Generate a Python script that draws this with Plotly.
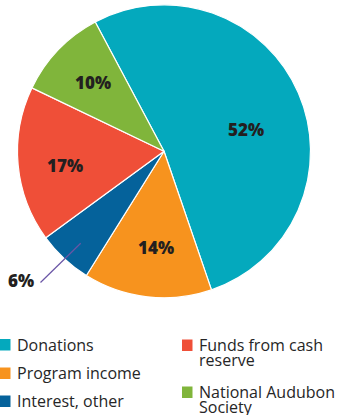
import plotly.graph_objects as go

# ---- data ----
labels = ["Donations", "Program income", "Interest, other",
          "Funds from cash reserve", "National Audubon Society"]
values = [52, 14, 6, 17, 10]
colors = ["#04a9bd", "#f7931e", "#05629b", "#ef4f38", "#80b53b"]
legend_names = ["Donations", "Program income", "Interest, other",
                "Funds from cash<br>reserve", "National Audubon<br>Society"]

# ---- layout constants ----
W, H = 337, 415
CX, CY, R = 164, 151.3, 146.5


def px(x, y):
    return x / W, 1 - y / H


# label centres (pixels) for each slice
label_pos = [(246, 129), (155.5, 247.5), (20.5, 280), (64.7, 165.5), (93, 82.7)]
# legend swatch top-left (pixels) for each slice
legend_pos = [(0, 339), (0, 367.5), (0, 395.5), (182, 339.5), (182, 386.5)]
LINE_H = 15.2

fig = go.Figure()
fig.add_trace(go.Pie(
    labels=labels,
    values=values,
    sort=False,
    direction="clockwise",
    rotation=332,
    marker=dict(colors=colors, line=dict(color="white", width=1.2)),
    textinfo="none",
    hoverinfo="label+percent",
    showlegend=False,
    domain=dict(x=[(CX - R) / W, (CX + R) / W],
                y=[1 - (CY + R) / H, 1 - (CY - R) / H]),
))

annotations = []
shapes = []
for v, (x, y) in zip(values, label_pos):
    ax, ay = px(x, y)
    annotations.append(dict(
        x=ax, y=ay, xref="paper", yref="paper", showarrow=False,
        text=f"{v}%", xanchor="center", yanchor="middle",
        font=dict(family="Open Sans", size=17, color="#231f20", weight=800),
    ))

# leader line for the small slice
x0, y0 = px(40.5, 282.5)
x1, y1 = px(80.7, 243.3)
shapes.append(dict(type="line", xref="paper", yref="paper",
                   x0=x0, y0=y0, x1=x1, y1=y1,
                   line=dict(color="#6a55a6", width=1.2)))

# legend
for name, col, (lx, ly) in zip(legend_names, colors, legend_pos):
    sx0, sy0 = px(lx, ly)
    sx1, sy1 = px(lx + 10.5, ly + 11.5)
    shapes.append(dict(type="rect", xref="paper", yref="paper",
                       x0=sx0, y0=sy1, x1=sx1, y1=sy0,
                       fillcolor=col, line=dict(width=0)))
    for i, line in enumerate(name.split("<br>")):
        tx, ty = px(lx + 14.5, ly + 5.5 + i * LINE_H)
        annotations.append(dict(
            x=tx, y=ty, xref="paper", yref="paper", showarrow=False,
            text=line, xanchor="left", yanchor="middle",
            font=dict(family="Open Sans", size=16, color="#262626", weight=500),
        ))

fig.update_layout(
    width=W, height=H,
    margin=dict(l=0, r=0, t=0, b=0),
    paper_bgcolor="white",
    plot_bgcolor="white",
    annotations=annotations,
    shapes=shapes,
)

fig.write_html("out.html")
